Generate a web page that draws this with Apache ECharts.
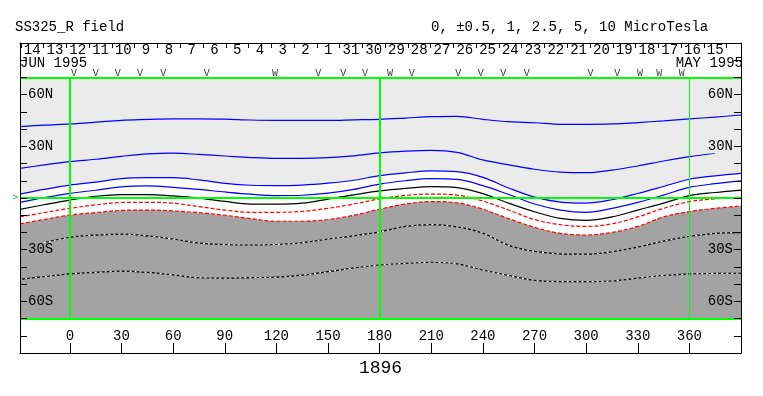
<!DOCTYPE html>
<html><head><meta charset="utf-8">
<script src="https://cdn.jsdelivr.net/npm/echarts@6/dist/echarts.min.js"></script>
<style>html,body{margin:0;padding:0;background:#fff}#c{width:763px;height:396px}</style>
</head><body><div id="c"></div>
<script>
// ---- data ----
const lonGrid = [-29,-15,0,15,30,45,60,75,90,105,120,135,150,165,180,195,210,225,240,255,270,285,300,315,330,345,360,375,390];
// positive contours (blue)
const posA = [41.4,42.3,43,44,45.1,45.6,46,46,45.8,45.3,45.1,45.1,45.1,45.4,45.7,46.4,47.2,47.4,45.7,44.3,43.7,42.8,42.8,43,43.8,44.8,45.9,47,48.2];
const posB = [17.2,19.2,21.1,22.5,24.2,25.6,26,25.3,24.4,23.5,23,23,23.4,24.5,26.2,27.2,27.7,26.5,22.1,19.2,16.7,15,14.7,16.2,18.6,21.5,24,26,null];
const posC = [2.3,5,7.5,9.2,11.3,11.8,11.8,10.5,8.5,7.4,7.2,7.5,8.6,10.3,13,14.6,15.7,15.3,12,5.8,0.5,-2.4,-3,-1,2.6,6.7,10.9,12.9,14.3];
const posD = [-2.5,0.2,2.7,4.5,6.5,7,6.2,5,3.5,2.2,1.4,1.6,2.8,5,8.1,10,11.2,10.8,7.2,2,-3.5,-7,-8.3,-6,-2.5,1.7,6.2,8.3,9.9];
// neutral line (black)
const neutral = [-6.6,-3.9,-1.2,1,2,2,1.2,-0.1,-2,-3.5,-3.6,-3,-0.6,1.8,4.1,5.6,6.6,6,2.5,-3,-8,-11.8,-13,-11,-7,-3,1.4,3.2,4.6];
// negative contours (red dashed)
const negA = [-11,-8.5,-6,-4,-2.6,-2.5,-3,-5,-7,-8.3,-8.3,-7.8,-6,-3.5,-0.5,1.5,2.3,1.7,-1.8,-7,-12.5,-15.5,-16.5,-15,-11,-6,-2.1,-0.5,0.4];
const negB = [-15,-12.5,-9.9,-8.5,-7.2,-7,-7.5,-8.5,-10,-12,-13.5,-13.5,-12.5,-10,-6.5,-3.5,-2.1,-2.8,-6.5,-12,-17,-20.5,-21.5,-20,-16.5,-11,-7.9,-6,-4.6];
// negative contours (black/white dotted)
const negC = [null,-25.9,-22.8,-21.5,-21,-22,-23.8,-26.2,-27,-27.3,-27,-26,-23.8,-22,-19.7,-16.5,-15.5,-16.8,-20.5,-27.5,-31,-32.4,-32.6,-31.2,-28.5,-25,-22.3,-20.5,-20.1];
const negD = [-47.2,-45.7,-44.1,-43.2,-42.5,-43.2,-44.6,-46.3,-46.5,-46.2,-46,-44.8,-42.8,-40.6,-38.9,-38,-37.3,-38.2,-41.8,-45,-47.8,-48.6,-48.6,-48.2,-46.5,-45,-44.1,-43.8,-43.7];
// observation markers
const markerLon = [2.4,15,27.8,40.7,54.3,79.5,119.2,144.3,158.9,171.5,186,198.6,225.7,238.7,251.9,265.5,302.6,318.1,331.3,342.5,355.5];
const markerChar = ['V','V','V','V','V','V','W','V','V','V','W','V','V','V','V','V','V','V','W','W','W'];
// tick labels
const lonTicks = [0,30,60,90,120,150,180,210,240,270,300,330,360];
const dayLabels = ['14','13','12','11','10','9','8','7','6','5','4','3','2','1','31','30','29','28','27','26','25','24','23','22','21','20','19','18','17','16','15'];
const latLabels = {60:'60N',30:'30N','-30':'30S','-60':'60S'};
const rotation = '1896';

// ---- layout/style constants ----
const dayStart = -28.5, dayStep = 13.23;
const markerLat = 72.3;
const FONT = '"Liberation Mono", "DejaVu Sans Mono", monospace';
const LG = '#ebebeb', DG = '#a3a3a3', GREEN = '#00ff00', BLUE = '#0000ff', RED = '#ff0000';

const dayBounds = dayLabels.map((d,i)=>dayStart + i*dayStep).concat([dayStart + dayLabels.length*dayStep]);
const dayCenters = dayLabels.map((d,i)=>dayStart + (i+0.5)*dayStep);
const pairs = arr => lonGrid.map((lon,i)=>[lon, arr[i]]);

function contour(data, color, type, width, z){
  return {type:'line', data:pairs(data), symbol:'none', smooth:0.35, silent:true, connectNulls:false, z:z||3,
    lineStyle:{color:color, width:width||1.2, type:type||'solid'}};
}

const chart = echarts.init(document.getElementById('c'), null, {renderer:'canvas'});
const yBase = {
  type:'value', min:-90, max:90, interval:10, z:10,
  axisLine:{show:true, onZero:false, lineStyle:{color:'#000', width:1}},
  axisTick:{show:true, inside:true, length:7, lineStyle:{color:'#000'}},
  splitLine:{show:false},
  axisLabel:{inside:true, margin:8, fontFamily:FONT, fontSize:14, color:'#000',
    formatter: v => { const t = latLabels[String(v)]; return t ? (v > 0 ? '{n|' + t + '}' : '{s|' + t + '}') : ''; },
    rich:{n:{backgroundColor:LG, fontFamily:FONT, fontSize:14, color:'#000'},
          s:{backgroundColor:DG, fontFamily:FONT, fontSize:14, color:'#000'}}}
};
chart.setOption({
  animation:false,
  grid:{left:20, right:22, top:43, bottom:43, containLabel:false},
  xAxis:[
    {type:'value', min:-29, max:390, position:'bottom', z:10,
     axisLine:{show:true, onZero:false, lineStyle:{color:'#000'}},
     axisTick:{show:true, inside:true, length:10, customValues:lonTicks, lineStyle:{color:'#000'}},
     axisLabel:{show:true, inside:true, margin:10, customValues:lonTicks, fontFamily:FONT, fontSize:14, color:'#000'},
     splitLine:{show:false},
     name:rotation, nameLocation:'middle', nameGap:4,
     nameTextStyle:{fontFamily:FONT, fontSize:18, color:'#000'}},
    {type:'value', min:-29, max:390, position:'top', z:10,
     axisLine:{show:true, onZero:false, lineStyle:{color:'#000'}},
     axisTick:{show:true, inside:true, length:5, customValues:dayBounds, lineStyle:{color:'#000'}},
     axisLabel:{show:true, inside:true, margin:0, customValues:dayCenters, fontFamily:FONT, fontSize:14, color:'#000',
       formatter: v => dayLabels[Math.round((v - dayStart)/dayStep - 0.5)] || ''},
     splitLine:{show:false}}
  ],
  yAxis:[
    Object.assign({}, yBase, {position:'left'}),
    Object.assign({}, yBase, {position:'right'}),
    {type:'value', min:-90, max:90, position:'left', axisLine:{show:false, onZero:false}, axisTick:{show:false}, splitLine:{show:false},
     axisLabel:{show:true, customValues:[0], margin:2, fontFamily:FONT, fontSize:9, color:'#00c000', formatter:()=>'>'}}
  ],
  graphic:[
    {type:'text', left:15, top:20, style:{text:'SS325_R field', font:'14px '+FONT, fill:'#000'}},
    {type:'text', left:431, top:20, style:{text:'0, \u00b10.5, 1, 2.5, 5, 10 MicroTesla', font:'14px '+FONT, fill:'#000'}},
    {type:'text', left:20, top:56, style:{text:'JUN 1995', font:'14px '+FONT, fill:'#000'}},
    {type:'text', right:20, top:56, style:{text:'MAY 1995', font:'14px '+FONT, fill:'#000'}}
  ],
  series:[
    // light gray positive region above contour posC
    {type:'line', data:pairs(posC), symbol:'none', smooth:0.35, silent:true, z:1,
     lineStyle:{width:0}, areaStyle:{color:LG, opacity:1, origin:70}},
    // dark gray negative region below contour negB
    {type:'line', data:pairs(negB), symbol:'none', smooth:0.35, silent:true, z:1,
     lineStyle:{width:0}, areaStyle:{color:DG, opacity:1, origin:-70}},
    contour(posA, BLUE), contour(posB, BLUE), contour(posC, BLUE), contour(posD, BLUE),
    contour(neutral, '#000'),
    contour(negA, RED, [4,2]), contour(negB, RED, [4,2]),
    contour(negC, '#000'), contour(negC, '#fff', [2,3], 1.2, 4),
    contour(negD, '#000'), contour(negD, '#fff', [2,3], 1.2, 4),
    // reference lines
    {type:'line', data:[], symbol:'none', silent:true, z:6,
     markLine:{silent:true, symbol:['none','none'], label:{show:false},
       lineStyle:{color:GREEN, width:2, type:'solid'},
       data:[
         {yAxis:70},{yAxis:0},{yAxis:-70},
         [{coord:[0,-70]},{coord:[0,70]}],
         [{coord:[180,-70]},{coord:[180,70]}],
         [{coord:[360,-70],lineStyle:{width:1}},{coord:[360,70]}]
       ]}},
    // markers
    {type:'scatter', data:markerLon.map((lon,i)=>[lon, markerLat, markerChar[i]]), symbolSize:0, silent:true, z:7,
     label:{show:true, position:'inside', formatter:p=>p.value[2], fontFamily:FONT, fontSize:10, color:'#000'}}
  ]
});
</script></body></html>
